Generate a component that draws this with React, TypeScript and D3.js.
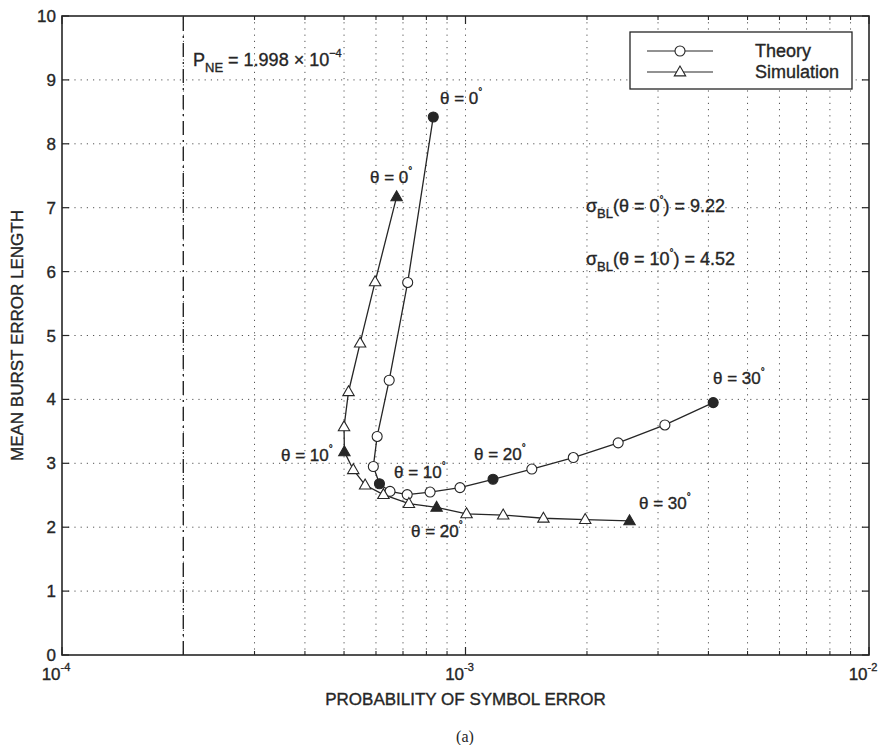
import React from "react";
import * as d3 from "d3";

// Theory curve (circles): probability of symbol error vs mean burst error length
const theoryP = [8.32e-4, 7.19e-4, 6.47e-4, 6.04e-4, 5.91e-4, 6.12e-4, 6.5e-4, 7.17e-4, 8.17e-4, 9.69e-4, 1.17e-3, 1.46e-3, 1.85e-3, 2.39e-3, 3.12e-3, 4.11e-3];
const theoryL = [8.42, 5.83, 4.3, 3.42, 2.95, 2.68, 2.56, 2.51, 2.55, 2.62, 2.75, 2.91, 3.09, 3.32, 3.6, 3.95];
const theoryFilled = [0, 5, 10, 15];

// Simulation curve (triangles)
const simP = [6.75e-4, 5.97e-4, 5.48e-4, 5.13e-4, 5.0e-4, 5.01e-4, 5.27e-4, 5.64e-4, 6.26e-4, 7.24e-4, 8.48e-4, 1.006e-3, 1.24e-3, 1.56e-3, 1.98e-3, 2.55e-3];
const simL = [7.17, 5.84, 4.88, 4.12, 3.57, 3.18, 2.9, 2.66, 2.51, 2.37, 2.31, 2.21, 2.19, 2.14, 2.12, 2.1];
const simFilled = [0, 5, 10, 15];

const pNE = 1.998e-4;
const yTicks = [0, 1, 2, 3, 4, 5, 6, 7, 8, 9, 10];
const xDecades = [1e-4, 1e-3, 1e-2];
const xDecadeExp = ["-4", "-3", "-2"];

const W = 893;
const H = 745;
const left = 62;
const right = 869;
const top = 16;
const bottom = 655;

const ink = "#262626";
const font = "'Liberation Sans', Arial, Helvetica, sans-serif";
const heavy = { stroke: ink, strokeWidth: 0.35 };

function Triangle({ x, y, filled }: { x: number; y: number; filled: boolean }) {
  const s = 6;
  const pts = `${x},${y - s} ${x - s * 0.95},${y + s * 0.65} ${x + s * 0.95},${y + s * 0.65}`;
  return <polygon points={pts} fill={filled ? ink : "#fff"} stroke={ink} strokeWidth={1.1} />;
}

function Circle({ x, y, filled }: { x: number; y: number; filled: boolean }) {
  return <circle cx={x} cy={y} r={5} fill={filled ? ink : "#fff"} stroke={ink} strokeWidth={1.1} />;
}

function ThetaLabel({ x, y, deg }: { x: number; y: number; deg: string }) {
  return (
    <text x={x} y={y} fontSize={17} fill={ink} fontFamily={font} {...heavy}>
      θ = {deg}
      <tspan dy={-9} fontSize={10}>°</tspan>
    </text>
  );
}

export default function App() {
  const x = d3.scaleLog().domain([1e-4, 1e-2]).range([left, right]);
  const y = d3.scaleLinear().domain([0, 10]).range([bottom, top]);

  const minor: number[] = [];
  for (const base of [1e-4, 1e-3]) {
    for (let k = 2; k <= 9; k++) minor.push(base * k);
  }

  const line = d3
    .line<[number, number]>()
    .x((d) => x(d[0]))
    .y((d) => y(d[1]));

  const theory: [number, number][] = theoryP.map((p, i) => [p, theoryL[i]]);
  const sim: [number, number][] = simP.map((p, i) => [p, simL[i]]);

  return (
    <svg width={W} height={H} style={{ position: "absolute", left: 0, top: 0, background: "#fff" }}>
      <rect x={0} y={0} width={W} height={H} fill="#fff" />
      {/* dotted grid */}
      <g stroke="#555" strokeWidth={1} strokeDasharray="1.2,5">
        {yTicks.slice(1, -1).map((t) => (
          <line key={"gy" + t} x1={left} x2={right} y1={y(t)} y2={y(t)} />
        ))}
        {minor.concat([1e-3]).map((t) => (
          <line key={"gx" + t} x1={x(t)} x2={x(t)} y1={top} y2={bottom} />
        ))}
      </g>

      {/* axis frame */}
      <rect x={left} y={top} width={right - left} height={bottom - top} fill="none" stroke={ink} strokeWidth={1.6} />

      {/* y ticks */}
      {yTicks.map((t) => (
        <g key={"yt" + t}>
          <line x1={left} x2={left + 7} y1={y(t)} y2={y(t)} stroke={ink} strokeWidth={1.2} />
          <line x1={right} x2={right - 7} y1={y(t)} y2={y(t)} stroke={ink} strokeWidth={1.2} />
          <text x={left - 6} y={y(t) + 6} textAnchor="end" fontSize={17} fill={ink} fontFamily={font} {...heavy}>
            {t}
          </text>
        </g>
      ))}

      {/* x ticks */}
      {minor.map((t) => (
        <g key={"xm" + t}>
          <line x1={x(t)} x2={x(t)} y1={bottom} y2={bottom - 4} stroke={ink} strokeWidth={1.1} />
          <line x1={x(t)} x2={x(t)} y1={top} y2={top + 4} stroke={ink} strokeWidth={1.1} />
        </g>
      ))}
      {xDecades.map((t, i) => (
        <g key={"xd" + t}>
          <line x1={x(t)} x2={x(t)} y1={bottom} y2={bottom - 8} stroke={ink} strokeWidth={1.2} />
          <line x1={x(t)} x2={x(t)} y1={top} y2={top + 8} stroke={ink} strokeWidth={1.2} />
          <text x={x(t) - 6} y={bottom + 25} textAnchor="middle" fontSize={17} fill={ink} fontFamily={font} {...heavy}>
            10
            <tspan dy={-9} fontSize={11}>{xDecadeExp[i]}</tspan>
          </text>
        </g>
      ))}

      {/* P_NE dash-dot marker */}
      <line
        x1={x(pNE)}
        x2={x(pNE)}
        y1={y(0)}
        y2={y(10)}
        stroke={ink}
        strokeWidth={1.4}
        strokeDasharray="14,5,2,5"
      />
      <text x={193} y={66} fontSize={18} fill={ink} fontFamily={font} {...heavy}>
        P
        <tspan dy={6} fontSize={13}>NE</tspan>
        <tspan dy={-6}> = 1.998 × 10</tspan>
        <tspan dy={-9} fontSize={11}>−4</tspan>
      </text>

      {/* curves */}
      <path d={line(theory) ?? ""} fill="none" stroke={ink} strokeWidth={1.3} />
      <path d={line(sim) ?? ""} fill="none" stroke={ink} strokeWidth={1.3} />
      {theory.map((d, i) => (
        <Circle key={"c" + i} x={x(d[0])} y={y(d[1])} filled={theoryFilled.includes(i)} />
      ))}
      {sim.map((d, i) => (
        <Triangle key={"t" + i} x={x(d[0])} y={y(d[1])} filled={simFilled.includes(i)} />
      ))}

      {/* angle annotations */}
      <ThetaLabel x={440} y={104} deg="0" />
      <ThetaLabel x={370} y={183} deg="0" />
      <ThetaLabel x={281} y={461} deg="10" />
      <ThetaLabel x={394} y={478} deg="10" />
      <ThetaLabel x={474} y={460} deg="20" />
      <ThetaLabel x={411} y={537} deg="20" />
      <ThetaLabel x={713} y={384} deg="30" />
      <ThetaLabel x={639} y={509} deg="30" />

      {/* sigma annotations */}
      <text x={586} y={212} fontSize={18} fill={ink} fontFamily={font} {...heavy}>
        σ<tspan dy={6} fontSize={13}>BL</tspan>
        <tspan dy={-6}>(θ = 0</tspan>
        <tspan dy={-9} fontSize={10}>°</tspan>
        <tspan dy={9}>) = 9.22</tspan>
      </text>
      <text x={586} y={265} fontSize={18} fill={ink} fontFamily={font} {...heavy}>
        σ<tspan dy={6} fontSize={13}>BL</tspan>
        <tspan dy={-6}>(θ = 10</tspan>
        <tspan dy={-9} fontSize={10}>°</tspan>
        <tspan dy={9}>) = 4.52</tspan>
      </text>

      {/* legend */}
      <g>
        <rect x={630} y={32} width={222} height={57} fill="#fff" stroke={ink} strokeWidth={1.3} />
        <line x1={647} x2={713} y1={51} y2={51} stroke={ink} strokeWidth={1.2} />
        <Circle x={680} y={51} filled={false} />
        <text x={755} y={57} fontSize={18} fill={ink} fontFamily={font} {...heavy}>Theory</text>
        <line x1={647} x2={713} y1={72} y2={72} stroke={ink} strokeWidth={1.2} />
        <Triangle x={680} y={72} filled={false} />
        <text x={755} y={78} fontSize={18} fill={ink} fontFamily={font} {...heavy}>Simulation</text>
      </g>

      {/* axis titles */}
      <text
        transform={`translate(23, ${(top + bottom) / 2}) rotate(-90)`}
        textAnchor="middle"
        fontSize={17}
        fill={ink}
        fontFamily={font}
        {...heavy}
      >
        MEAN BURST ERROR LENGTH
      </text>
      <text x={(left + right) / 2} y={705} textAnchor="middle" fontSize={17} fill={ink} fontFamily={font} {...heavy}>
        PROBABILITY OF SYMBOL ERROR
      </text>
      <text x={465} y={742} textAnchor="middle" fontSize={16} fill={ink} fontFamily="'Liberation Serif', 'Times New Roman', serif">
        (a)
      </text>
    </svg>
  );
}
